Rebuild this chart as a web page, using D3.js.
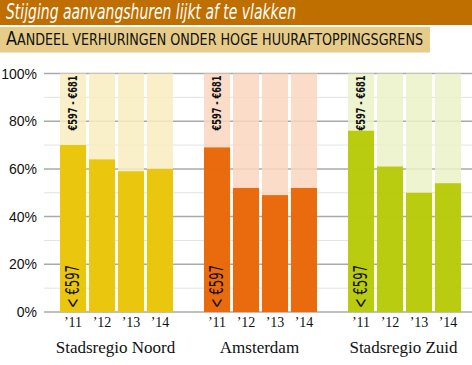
<!DOCTYPE html>
<html>
<head>
<meta charset="utf-8">
<script src="https://cdn.jsdelivr.net/npm/d3@7.9.0/dist/d3.min.js"></script>
<style>
  body { margin: 0; background: #fff; }
  svg { display: block; }
</style>
</head>
<body>
<div id="chart"></div>
<script>
// regions and years
const regions = ["Stadsregio Noord", "Amsterdam", "Stadsregio Zuid"];
const years = ["’11", "’12", "’13", "’14"];

// share of lettings below high rent cap (%), per region, per year
const noord = [70, 64, 59, 60];
const amsterdam = [69, 52, 49, 52];
const zuid = [76, 61, 50, 54];

const yTicks = [0, 20, 40, 60, 80, 100];
const yMinor = [10, 30, 50, 70, 90];

const darkColors = ["#EAC300", "#E86100", "#B5C800"];
const lightColors = ["#F8EDBF", "#F9D6BE", "#EBF1C8"];

const width = 472;
const height = 365;
const narrow = "'Liberation Sans Narrow', 'DejaVu Sans Condensed', sans-serif";

const svg = d3.select("#chart")
    .append("svg")
    .attr("width", width)
    .attr("height", height);

// title bar
svg.append("rect")
    .attr("x", 0).attr("y", 0)
    .attr("width", width).attr("height", 25)
    .attr("fill", "#BF6E00");
svg.append("text")
    .attr("x", 6).attr("y", 19)
    .attr("fill", "#fff")
    .style("font-family", narrow)
    .style("font-style", "italic")
    .style("font-size", "21px")
    .attr("textLength", 290)
    .attr("lengthAdjust", "spacingAndGlyphs")
    .text("Stijging aanvangshuren lijkt af te vlakken");

// subtitle box
svg.append("rect")
    .attr("x", 0).attr("y", 27)
    .attr("width", 430).attr("height", 25.5)
    .attr("fill", "#E6CC88");
const sub = svg.append("text")
    .attr("x", 6).attr("y", 45)
    .attr("fill", "#111")
    .style("font-family", narrow)
    .attr("textLength", 417)
    .attr("lengthAdjust", "spacingAndGlyphs");
sub.append("tspan").style("font-size", "19px").text("A");
sub.append("tspan").style("font-size", "15px").text("ANDEEL VERHURINGEN ONDER HOGE HUURAFTOPPINGSGRENS");

// scales
const y = d3.scaleLinear().domain([0, 100]).range([312, 73.5]);
const xGroup = d3.scaleBand().domain(regions).range([60, 60 + 144 * 3]).padding(0);
const xYear = d3.scaleBand().domain(years).range([0, 113]).paddingInner(0.1).paddingOuter(0);

// gridlines
const grid = svg.append("g");
grid.selectAll("line.minor")
    .data(yMinor)
    .join("line")
    .attr("class", "minor")
    .attr("x1", 44).attr("x2", width)
    .attr("y1", d => y(d)).attr("y2", d => y(d))
    .attr("stroke", "#e2e2e2")
    .attr("stroke-width", 1);
grid.selectAll("line.major")
    .data(yTicks)
    .join("line")
    .attr("class", "major")
    .attr("x1", 44).attr("x2", width)
    .attr("y1", d => y(d)).attr("y2", d => y(d))
    .attr("stroke", "#aaa")
    .attr("stroke-width", 1.5);

// y labels
svg.selectAll("text.ylab")
    .data(yTicks)
    .join("text")
    .attr("class", "ylab")
    .attr("x", 37)
    .attr("y", d => y(d) + 5)
    .attr("text-anchor", "end")
    .attr("fill", "#111")
    .style("font-family", "'Liberation Sans', Arial, sans-serif")
    .style("font-size", "14px")
    .text(d => d + "%");

const series = [noord, amsterdam, zuid];

regions.forEach((region, gi) => {
    const g = svg.append("g")
        .attr("transform", `translate(${xGroup(region)},0)`);

    // background bars up to 100%
    g.selectAll("rect.bg")
        .data(years)
        .join("rect")
        .attr("class", "bg")
        .attr("x", d => xYear(d))
        .attr("width", xYear.bandwidth())
        .attr("y", y(100))
        .attr("height", y(0) - y(100))
        .attr("fill", lightColors[gi])
        .attr("fill-opacity", 0.85);

    // value bars
    g.selectAll("rect.val")
        .data(series[gi])
        .join("rect")
        .attr("class", "val")
        .attr("x", (d, i) => xYear(years[i]))
        .attr("width", xYear.bandwidth())
        .attr("y", d => y(d))
        .attr("height", d => y(0) - y(d))
        .attr("fill", darkColors[gi])
        .attr("fill-opacity", 0.93);

    // rotated labels in first bar
    const cx = xYear(years[0]) + xYear.bandwidth() / 2;
    g.append("text")
        .attr("transform", `translate(${cx + 4},${y(100) + 2}) rotate(-90)`)
        .attr("text-anchor", "end")
        .attr("fill", "#111")
        .style("font-family", narrow)
        .style("font-weight", "bold")
        .style("font-size", "12px")
        .attr("textLength", 55)
        .attr("lengthAdjust", "spacingAndGlyphs")
        .text("€597 - €681");
    g.append("text")
        .attr("transform", `translate(${cx + 6},${y(0) - 4}) rotate(-90)`)
        .attr("text-anchor", "start")
        .attr("fill", "#111")
        .style("font-family", narrow)
        .style("font-size", "19px")
        .attr("textLength", 43)
        .attr("lengthAdjust", "spacingAndGlyphs")
        .text("< €597");

    // year ticks
    g.selectAll("text.year")
        .data(years)
        .join("text")
        .attr("class", "year")
        .attr("x", d => xYear(d) + xYear.bandwidth() / 2)
        .attr("y", 327)
        .attr("text-anchor", "middle")
        .attr("fill", "#111")
        .style("font-family", "'Liberation Serif', serif")
        .style("font-size", "14px")
        .text(d => d);

    // group label
    g.append("text")
        .attr("x", 113 / 2 - 1)
        .attr("y", 353)
        .attr("text-anchor", "middle")
        .attr("fill", "#111")
        .style("font-family", "'Liberation Serif', serif")
        .style("font-size", "17px")
        .text(region);
});
</script>
</body>
</html>
